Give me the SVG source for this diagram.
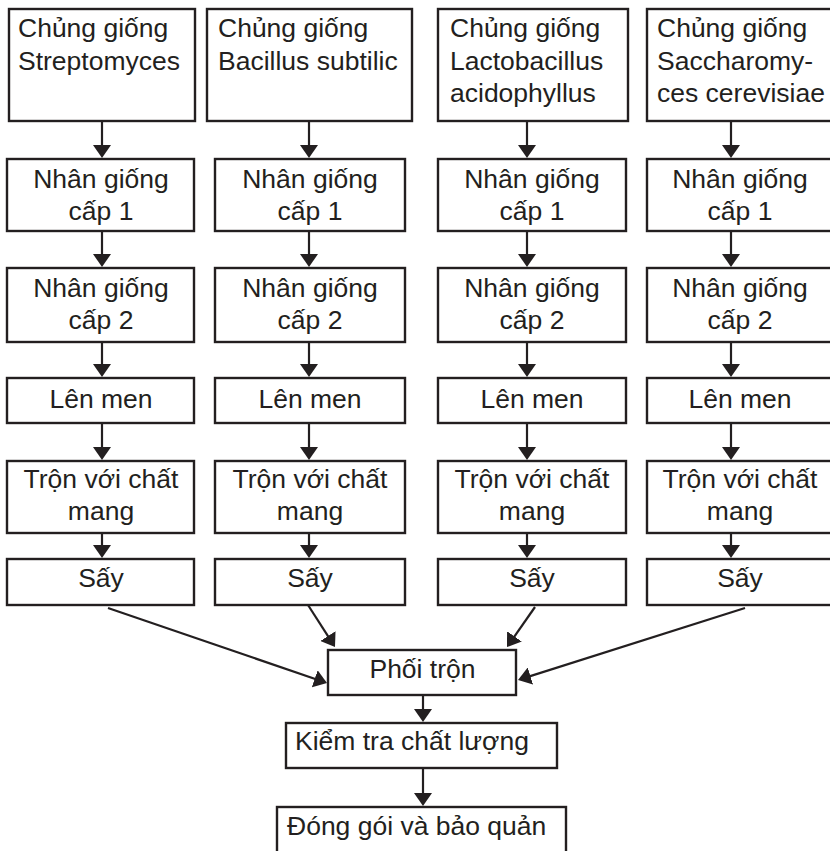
<svg xmlns="http://www.w3.org/2000/svg" width="830" height="851" viewBox="0 0 830 851">
<defs>
<style>
.box{fill:#fff;stroke:#231f20;stroke-width:2.4}
.t{font-family:"Liberation Sans",Arial,sans-serif;font-size:26.5px;fill:#231f20}
.c{text-anchor:middle}
.ln{stroke:#231f20;stroke-width:2.2;fill:none;marker-end:url(#ah)}
</style>
<marker id="ah" markerUnits="userSpaceOnUse" viewBox="0 0 13 18" refX="6" refY="9" markerWidth="13" markerHeight="18" orient="auto">
<path d="M0,0 L13,9 L0,18 Z" fill="#231f20"/>
</marker>
</defs>
<rect width="830" height="851" fill="#fff"/>

<g id="connectors">
<path class="ln" d="M102,121 V151"/>
<path class="ln" d="M102,231 V260"/>
<path class="ln" d="M102,342 V370"/>
<path class="ln" d="M102,423 V453"/>
<path class="ln" d="M102,533 V551"/>
<path class="ln" d="M309,121 V151"/>
<path class="ln" d="M309,231 V260"/>
<path class="ln" d="M309,342 V370"/>
<path class="ln" d="M309,423 V453"/>
<path class="ln" d="M309,533 V551"/>
<path class="ln" d="M527,121 V151"/>
<path class="ln" d="M527,231 V260"/>
<path class="ln" d="M527,342 V370"/>
<path class="ln" d="M527,423 V453"/>
<path class="ln" d="M527,533 V551"/>
<path class="ln" d="M731,121 V151"/>
<path class="ln" d="M731,231 V260"/>
<path class="ln" d="M731,342 V370"/>
<path class="ln" d="M731,423 V453"/>
<path class="ln" d="M731,533 V551"/>
<path class="ln" d="M108,608 L320.4,680.7"/>
<path class="ln" d="M308,605 L331.2,641.1"/>
<path class="ln" d="M535,607 L511,641.3"/>
<path class="ln" d="M745,608 L524.7,677.9"/>
<path class="ln" d="M423,695 V715"/>
<path class="ln" d="M423,768 V799"/>
</g>

<g id="c1r1"><rect class="box" x="9" y="9" width="186" height="112"/><text class="t" x="18" y="37">Chủng giống</text><text class="t" x="18" y="70">Streptomyces</text></g>
<g id="c2r1"><rect class="box" x="207" y="9" width="205" height="112"/><text class="t" x="218" y="37">Chủng giống</text><text class="t" x="218" y="70">Bacillus subtilic</text></g>
<g id="c3r1"><rect class="box" x="438" y="9" width="190" height="112"/><text class="t" x="450" y="37">Chủng giống</text><text class="t" x="450" y="70">Lactobacillus</text><text class="t" x="450" y="102">acidophyllus</text></g>
<g id="c4r1"><rect class="box" x="647" y="9" width="190" height="112"/><text class="t" x="657" y="37">Chủng giống</text><text class="t" x="657" y="70">Saccharomy-</text><text class="t" x="657" y="102">ces cerevisiae</text></g>

<g id="c1r2"><rect class="box" x="7" y="159" width="187" height="72"/><text class="t c" x="101" y="188">Nhân giống</text><text class="t c" x="101" y="220">cấp 1</text></g>
<g id="c2r2"><rect class="box" x="215" y="159" width="190" height="72"/><text class="t c" x="310" y="188">Nhân giống</text><text class="t c" x="310" y="220">cấp 1</text></g>
<g id="c3r2"><rect class="box" x="438" y="159" width="188" height="72"/><text class="t c" x="532" y="188">Nhân giống</text><text class="t c" x="532" y="220">cấp 1</text></g>
<g id="c4r2"><rect class="box" x="647" y="159" width="190" height="72"/><text class="t c" x="740" y="188">Nhân giống</text><text class="t c" x="740" y="220">cấp 1</text></g>

<g id="c1r3"><rect class="box" x="7" y="268" width="187" height="74"/><text class="t c" x="101" y="297">Nhân giống</text><text class="t c" x="101" y="329">cấp 2</text></g>
<g id="c2r3"><rect class="box" x="215" y="268" width="190" height="74"/><text class="t c" x="310" y="297">Nhân giống</text><text class="t c" x="310" y="329">cấp 2</text></g>
<g id="c3r3"><rect class="box" x="438" y="268" width="188" height="74"/><text class="t c" x="532" y="297">Nhân giống</text><text class="t c" x="532" y="329">cấp 2</text></g>
<g id="c4r3"><rect class="box" x="647" y="268" width="190" height="74"/><text class="t c" x="740" y="297">Nhân giống</text><text class="t c" x="740" y="329">cấp 2</text></g>

<g id="c1r4"><rect class="box" x="7" y="378" width="187" height="45"/><text class="t c" x="101" y="408">Lên men</text></g>
<g id="c2r4"><rect class="box" x="215" y="378" width="190" height="45"/><text class="t c" x="310" y="408">Lên men</text></g>
<g id="c3r4"><rect class="box" x="438" y="378" width="188" height="45"/><text class="t c" x="532" y="408">Lên men</text></g>
<g id="c4r4"><rect class="box" x="647" y="378" width="190" height="45"/><text class="t c" x="740" y="408">Lên men</text></g>

<g id="c1r5"><rect class="box" x="7" y="461" width="187" height="72"/><text class="t c" x="101" y="488">Trộn với chất</text><text class="t c" x="101" y="520">mang</text></g>
<g id="c2r5"><rect class="box" x="215" y="461" width="190" height="72"/><text class="t c" x="310" y="488">Trộn với chất</text><text class="t c" x="310" y="520">mang</text></g>
<g id="c3r5"><rect class="box" x="438" y="461" width="188" height="72"/><text class="t c" x="532" y="488">Trộn với chất</text><text class="t c" x="532" y="520">mang</text></g>
<g id="c4r5"><rect class="box" x="647" y="461" width="190" height="72"/><text class="t c" x="740" y="488">Trộn với chất</text><text class="t c" x="740" y="520">mang</text></g>

<g id="c1r6"><rect class="box" x="7" y="559" width="187" height="46"/><text class="t c" x="101" y="587">Sấy</text></g>
<g id="c2r6"><rect class="box" x="215" y="559" width="190" height="46"/><text class="t c" x="310" y="587">Sấy</text></g>
<g id="c3r6"><rect class="box" x="438" y="559" width="188" height="46"/><text class="t c" x="532" y="587">Sấy</text></g>
<g id="c4r6"><rect class="box" x="647" y="559" width="190" height="46"/><text class="t c" x="740" y="587">Sấy</text></g>

<g id="phoitron"><rect class="box" x="328" y="650" width="188" height="45"/><text class="t c" x="422.5" y="678">Phối trộn</text></g>
<g id="kiemtra"><rect class="box" x="286" y="723" width="271" height="45"/><text class="t" x="295" y="750">Kiểm tra chất lượng</text></g>
<g id="donggoi"><rect class="box" x="277" y="807" width="289" height="60"/><text class="t" x="287" y="835">Đóng gói và bảo quản</text></g>
</svg>
